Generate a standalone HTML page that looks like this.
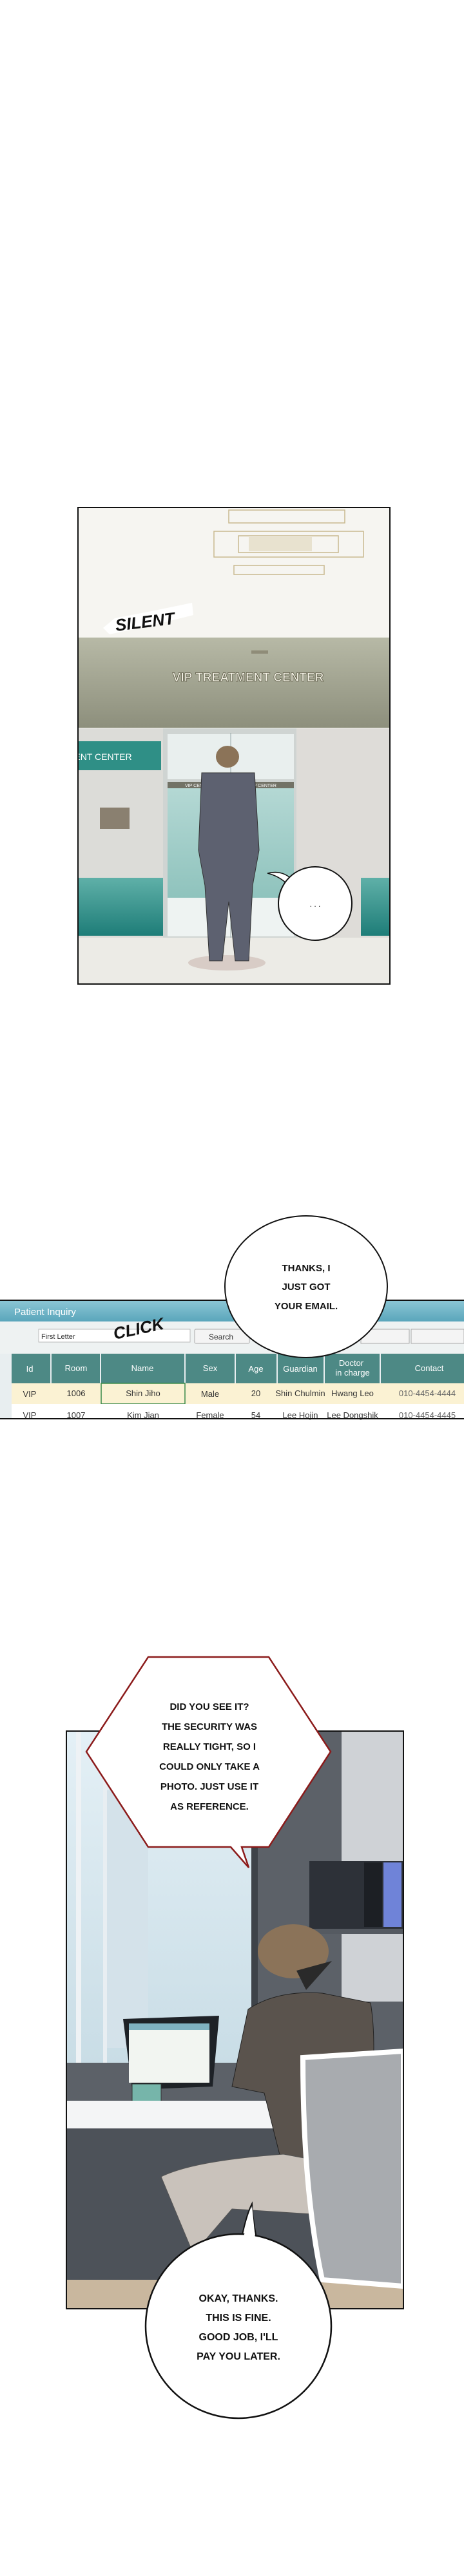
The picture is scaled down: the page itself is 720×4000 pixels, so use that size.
<!DOCTYPE html>
<html><head><meta charset="utf-8"><style>
html,body{margin:0;padding:0;background:#fff}
body{width:720px;height:4000px;position:relative;overflow:hidden;font-family:"Liberation Sans",sans-serif}
svg{position:absolute;left:0;top:0}
</style></head><body>
<svg width="720" height="4000" viewBox="0 0 720 4000" xmlns="http://www.w3.org/2000/svg">
<defs>
<linearGradient id="olive" x1="0" y1="0" x2="0" y2="1"><stop offset="0" stop-color="#b7b9a6"/><stop offset="1" stop-color="#8d8f7c"/></linearGradient>
<linearGradient id="teal" x1="0" y1="0" x2="0" y2="1"><stop offset="0" stop-color="#5fb0a8"/><stop offset="1" stop-color="#1e7d78"/></linearGradient>
<linearGradient id="glass" x1="0" y1="0" x2="0" y2="1"><stop offset="0" stop-color="#b4d8d4"/><stop offset="1" stop-color="#8fc3bd"/></linearGradient>
<linearGradient id="bar" x1="0" y1="0" x2="0" y2="1"><stop offset="0" stop-color="#8ec7d6"/><stop offset="1" stop-color="#5aa6bb"/></linearGradient>
<linearGradient id="sky" x1="0" y1="0" x2="0" y2="1"><stop offset="0" stop-color="#e4f0f6"/><stop offset="1" stop-color="#c9dde6"/></linearGradient>
</defs>

<!-- PANEL 1 -->
<rect x="121" y="788" width="484" height="740" fill="#f3f2ee"/>
<rect x="121" y="788" width="484" height="202" fill="#f6f5f1"/>
<g fill="none" stroke="#c9b98f" stroke-width="1.5">
<rect x="355" y="792" width="180" height="20"/>
<rect x="332" y="825" width="232" height="40"/>
<rect x="370" y="832" width="155" height="26"/>
<rect x="363" y="878" width="140" height="14"/>
</g>
<rect x="386" y="834" width="98" height="22" fill="#e8e2cf"/>
<rect x="121" y="990" width="484" height="140" fill="url(#olive)"/>
<text x="385" y="1058" font-size="19" font-weight="bold" fill="#f4f2e6" stroke="#5c5a45" stroke-width="0.8" text-anchor="middle">VIP TREATMENT CENTER</text>
<rect x="390" y="1010" width="26" height="5" fill="#8f8c78"/>
<!-- left wall -->
<rect x="121" y="1131" width="132" height="325" fill="#dcdcd8"/>
<polygon points="121,1151 250,1151 250,1196 121,1196" fill="#2f8f86"/>
<text x="160" y="1180" font-size="14" fill="#fff" text-anchor="middle">ENT CENTER</text>
<rect x="155" y="1254" width="46" height="33" fill="#8a8070"/>
<rect x="121" y="1363" width="132" height="90" fill="url(#teal)"/>
<!-- doors -->
<rect x="253" y="1131" width="207" height="325" fill="#cfd4d2"/>
<rect x="260" y="1140" width="196" height="70" fill="#e9efee"/>
<rect x="260" y="1214" width="196" height="10" fill="#727266"/>
<text x="308" y="1222" font-size="7" fill="#fff" text-anchor="middle">VIP CENTER</text>
<text x="408" y="1222" font-size="7" fill="#fff" text-anchor="middle">VIP CENTER</text>
<rect x="260" y="1224" width="196" height="170" fill="url(#glass)"/>
<rect x="260" y="1394" width="196" height="60" fill="#eef3f2"/>
<line x1="358" y1="1138" x2="358" y2="1456" stroke="#9aa" stroke-width="1"/>
<rect x="460" y="1131" width="145" height="325" fill="#dedcd8"/>
<rect x="560" y="1363" width="45" height="90" fill="url(#teal)"/>
<rect x="121" y="1456" width="484" height="72" fill="#ecebe6"/>
<ellipse cx="352" cy="1495" rx="60" ry="12" fill="#d8ccc6"/>
<!-- man -->
<path d="M313 1200 L395 1200 L402 1320 L392 1375 L386 1492 L365 1492 L355 1400 L345 1492 L325 1492 L318 1375 L308 1320 Z" fill="#5d6170" stroke="#333" stroke-width="1"/>
<ellipse cx="353" cy="1175" rx="18" ry="17" fill="#8b7358"/>
<path d="M160 975 L178 960 L240 948 L298 936 L300 955 L240 970 L170 985 Z" fill="#fff"/>
<text x="180" y="980" font-size="26" font-weight="bold" font-style="italic" fill="#111" transform="rotate(-7 180 980)">SILENT</text>
<!-- dots bubble -->
<path d="M415 1356 Q440 1350 455 1368 L445 1372 Q432 1360 415 1356 Z" fill="#fff" stroke="#111" stroke-width="1.5"/>
<ellipse cx="489" cy="1403" rx="57" ry="57" fill="#fff" stroke="#111" stroke-width="2"/>
<text x="489" y="1408" font-size="12" fill="#222" text-anchor="middle">. . .</text>
<rect x="121" y="788" width="484" height="740" fill="none" stroke="#111" stroke-width="2"/>

<!-- PATIENT INQUIRY STRIP -->
<rect x="0" y="2018" width="720" height="186" fill="#e8eef0"/>
<rect x="0" y="2018" width="720" height="34" fill="url(#bar)"/>
<text x="22" y="2042" font-size="15" fill="#fff">Patient Inquiry</text>
<rect x="0" y="2052" width="720" height="50" fill="#eef2f2"/>
<rect x="60" y="2064" width="235" height="20" fill="#fff" stroke="#bbb"/>
<text x="64" y="2079" font-size="11" fill="#333">First Letter</text>
<rect x="302" y="2064" width="85" height="22" fill="#f4f4f4" stroke="#aaa" rx="2"/>
<text x="324" y="2080" font-size="12" fill="#333">Search</text>
<rect x="560" y="2064" width="75" height="22" fill="#f4f4f4" stroke="#aaa"/>
<rect x="638" y="2064" width="82" height="22" fill="#f4f4f4" stroke="#aaa"/>
<rect x="18" y="2102" width="702" height="46" fill="#4d8985"/>
<g fill="#fff" font-size="13" text-anchor="middle">
<text x="46" y="2130">Id</text><text x="118" y="2129">Room</text><text x="221" y="2129">Name</text>
<text x="326" y="2129">Sex</text><text x="397" y="2130">Age</text><text x="466" y="2130">Guardian</text>
<text x="545" y="2121">Doctor</text><text x="547" y="2136">in charge</text><text x="666" y="2129">Contact</text>
</g>
<g stroke="#e8eef0" stroke-width="2"><line x1="79" y1="2102" x2="79" y2="2148"/><line x1="156" y1="2102" x2="156" y2="2148"/><line x1="287" y1="2102" x2="287" y2="2148"/><line x1="365" y1="2102" x2="365" y2="2148"/><line x1="430" y1="2102" x2="430" y2="2148"/><line x1="503" y1="2102" x2="503" y2="2148"/><line x1="590" y1="2102" x2="590" y2="2148"/></g>
<rect x="18" y="2148" width="702" height="32" fill="#fbf2d3"/>
<rect x="157" y="2148" width="130" height="32" fill="none" stroke="#3a8a4a" stroke-width="1.5"/>
<rect x="18" y="2180" width="702" height="24" fill="#fff"/>
<g fill="#333" font-size="13" text-anchor="middle">
<text x="46" y="2169">VIP</text><text x="118" y="2168">1006</text><text x="222" y="2168">Shin Jiho</text><text x="326" y="2169">Male</text><text x="397" y="2168">20</text><text x="466" y="2168">Shin Chulmin</text><text x="547" y="2168">Hwang Leo</text><text x="663" y="2168" fill="#666">010-4454-4444</text>
<text x="46" y="2202">VIP</text><text x="118" y="2202">1007</text><text x="222" y="2202">Kim Jian</text><text x="326" y="2202">Female</text><text x="397" y="2202">54</text><text x="466" y="2202">Lee Hojin</text><text x="547" y="2202">Lee Dongshik</text><text x="663" y="2202" fill="#666">010-4454-4445</text>
</g>
<line x1="0" y1="2019" x2="720" y2="2019" stroke="#111" stroke-width="2"/>
<line x1="0" y1="2203" x2="720" y2="2203" stroke="#111" stroke-width="2"/>
<text x="178" y="2080" font-size="26" font-weight="bold" font-style="italic" fill="#111" transform="rotate(-12 178 2080)">CLICK</text>
<ellipse cx="475" cy="1998" rx="126" ry="110" fill="#fff" stroke="#111" stroke-width="2"/>
<g font-size="15" font-weight="bold" fill="#111" text-anchor="middle">
<text x="475" y="1974">THANKS, I</text><text x="475" y="2003">JUST GOT</text><text x="475" y="2033">YOUR EMAIL.</text>
</g>

<!-- PANEL 2 -->
<rect x="103" y="2688" width="523" height="897" fill="#5c6168"/>
<rect x="103" y="2688" width="290" height="515" fill="url(#sky)"/>
<rect x="160" y="2780" width="70" height="400" fill="#d4e2ea"/>
<rect x="118" y="2688" width="8" height="515" fill="#eef2f5"/>
<rect x="160" y="2688" width="6" height="515" fill="#e8eef2"/>
<rect x="390" y="2688" width="10" height="515" fill="#3e4349"/>
<rect x="530" y="2688" width="96" height="420" fill="#cfd2d6"/>
<rect x="480" y="2890" width="146" height="105" fill="#2d3138"/>
<rect x="565" y="2892" width="28" height="100" fill="#1c1f24"/>
<rect x="595" y="2892" width="28" height="100" fill="#6f83d8"/>
<rect x="480" y="2995" width="146" height="8" fill="#555a61"/>
<!-- laptop -->
<polygon points="191,3135 340,3130 330,3240 205,3245" fill="#1e2227"/>
<rect x="200" y="3142" width="125" height="92" fill="#f2f5f1"/>
<rect x="200" y="3142" width="125" height="10" fill="#7fb2c1"/>
<rect x="205" y="3236" width="45" height="30" fill="#76b5aa" stroke="#333"/>
<!-- desk -->
<rect x="103" y="3262" width="370" height="43" fill="#f4f5f6"/>
<rect x="103" y="3305" width="523" height="280" fill="#4d5259"/>
<rect x="103" y="3540" width="523" height="45" fill="#c9b79e"/>
<!-- man -->
<ellipse cx="455" cy="3030" rx="55" ry="42" fill="#8b7359"/>
<path d="M385 3120 Q430 3090 500 3095 L575 3110 Q590 3200 560 3370 L440 3370 L410 3250 L360 3240 Z" fill="#5a534d" stroke="#222" stroke-width="1"/>
<path d="M250 3380 Q300 3355 440 3345 L520 3360 L515 3440 L360 3430 L300 3500 Z" fill="#c9c2bb" stroke="#555" stroke-width="1"/>
<path d="M460 3060 L515 3045 L475 3090 Z" fill="#2a2a2a"/>
<!-- chair -->
<path d="M470 3195 L626 3185 L626 3550 L500 3540 Q470 3400 470 3195 Z" fill="#a8abaf" stroke="#fff" stroke-width="8"/>
<rect x="103" y="2688" width="523" height="897" fill="none" stroke="#111" stroke-width="2"/>

<!-- red bubble -->
<polygon points="230,2573 417,2573 513,2720 417,2868 375,2868 386,2900 358,2868 230,2868 134,2720" fill="#fff" stroke="#8b1a1a" stroke-width="2.5"/>
<g font-size="15" font-weight="bold" fill="#111" text-anchor="middle">
<text x="325" y="2655">DID YOU SEE IT?</text>
<text x="325" y="2686">THE SECURITY WAS</text>
<text x="325" y="2717">REALLY TIGHT, SO I</text>
<text x="325" y="2748">COULD ONLY TAKE A</text>
<text x="325" y="2779">PHOTO. JUST USE IT</text>
<text x="325" y="2810">AS REFERENCE.</text>
</g>

<!-- bottom bubble -->
<path d="M375 3475 Q382 3440 391 3422 Q392 3445 398 3475 Z" fill="#fff" stroke="#111" stroke-width="2"/>
<ellipse cx="370" cy="3612" rx="144" ry="143" fill="#fff" stroke="#111" stroke-width="2.5"/>
<path d="M378 3472 Q390 3440 391 3425 L396 3475 Z" fill="#fff"/>
<g font-size="16" font-weight="bold" fill="#111" text-anchor="middle">
<text x="370" y="3574">OKAY, THANKS.</text>
<text x="370" y="3604">THIS IS FINE.</text>
<text x="370" y="3634">GOOD JOB, I'LL</text>
<text x="370" y="3664">PAY YOU LATER.</text>
</g>
</svg>
</body></html>
